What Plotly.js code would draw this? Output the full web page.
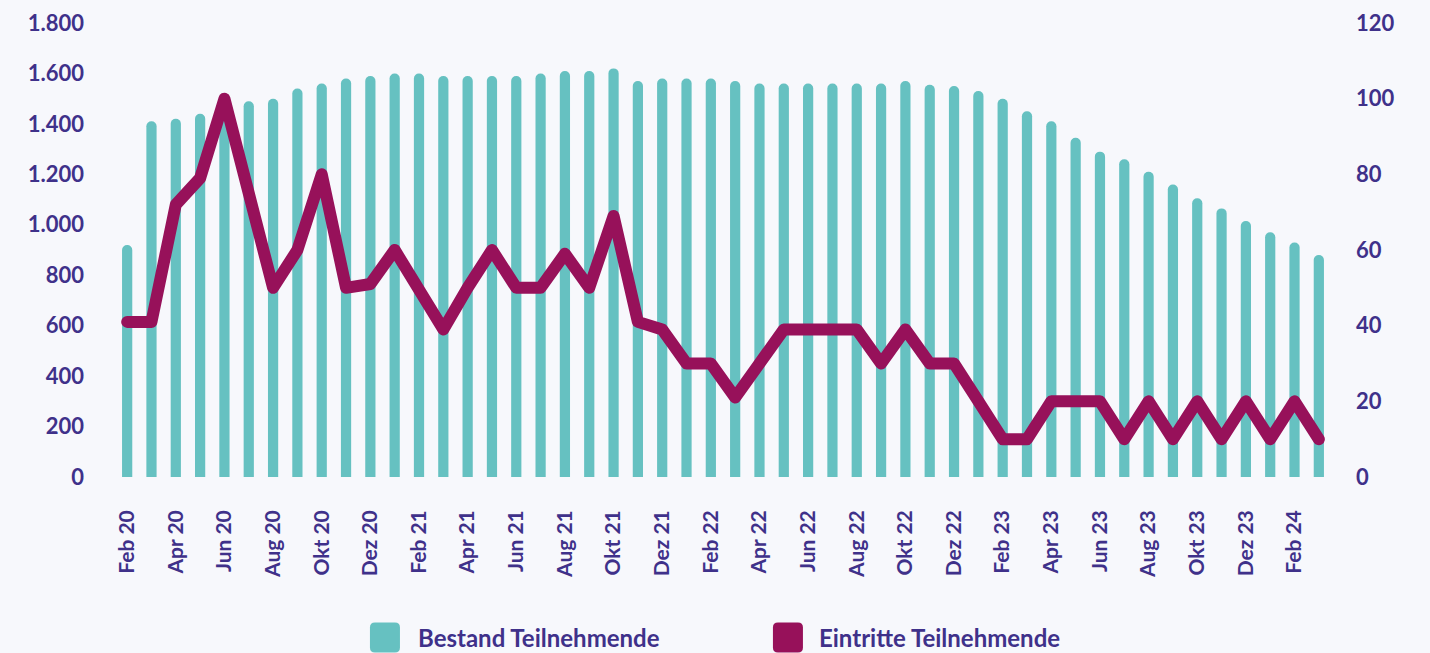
<!DOCTYPE html>
<html>
<head>
<meta charset="utf-8">
<script src="https://cdn.plot.ly/plotly-3.0.1.min.js"></script>
<style>
  html, body { margin: 0; padding: 0; background: #f7f8fc; }
  #chart { width: 1430px; height: 653px; }
  .scatterlayer .js-line { stroke-linejoin: round !important; stroke-linecap: round !important; }
</style>
</head>
<body>
<div id="chart"></div>
<script>
// Months (Feb 2020 – Mar 2024)
const months = [
  "Feb 20","Mär 20","Apr 20","Mai 20","Jun 20","Jul 20","Aug 20","Sep 20","Okt 20","Nov 20","Dez 20",
  "Jan 21","Feb 21","Mär 21","Apr 21","Mai 21","Jun 21","Jul 21","Aug 21","Sep 21","Okt 21","Nov 21","Dez 21",
  "Jan 22","Feb 22","Mär 22","Apr 22","Mai 22","Jun 22","Jul 22","Aug 22","Sep 22","Okt 22","Nov 22","Dez 22",
  "Jan 23","Feb 23","Mär 23","Apr 23","Mai 23","Jun 23","Jul 23","Aug 23","Sep 23","Okt 23","Nov 23","Dez 23",
  "Jan 24","Feb 24","Mär 24"
];

// Bestand Teilnehmende (left axis)
const bestand = [
  920,1410,1420,1440,1470,1490,1500,1540,1560,1580,1590,
  1600,1600,1590,1590,1590,1590,1600,1610,1610,1620,1570,1580,
  1580,1580,1570,1560,1560,1560,1560,1560,1560,1570,1555,1550,
  1530,1500,1450,1410,1345,1290,1260,1210,1160,1105,1065,1015,
  970,930,880
];

// Eintritte Teilnehmende (right axis)
const eintritte = [
  41,41,72,79,100,75,50,60,80,50,51,
  60,50,39,50,60,50,50,59,50,69,41,39,
  30,30,21,30,39,39,39,39,30,39,30,30,
  20,10,10,20,20,20,10,20,10,20,10,20,
  10,20,10
];

// Shown tick labels: every second month
const tickLabels = months.filter((m, i) => i % 2 === 0);

const seriesNames = ["Bestand Teilnehmende", "Eintritte Teilnehmende"];
const colBar = "#66c1c1";
const colLine = "#97115a";
const colText = "#3f318a";
const fontFam = "Lato, 'Noto Sans', sans-serif";

const traces = [
  {
    type: "bar",
    name: seriesNames[0],
    x: months,
    y: bestand,
    marker: { color: colBar, cornerradius: 5 },
    width: 0.42,
    yaxis: "y",
    hoverinfo: "x+y"
  },
  {
    type: "scatter",
    mode: "lines",
    name: seriesNames[1],
    x: months,
    y: eintritte,
    line: { color: colLine, width: 12, shape: "linear" },
    yaxis: "y2",
    hoverinfo: "x+y"
  }
];

const layout = {
  width: 1430,
  height: 653,
  paper_bgcolor: "#f7f8fc",
  plot_bgcolor: "#f7f8fc",
  separators: ",.",
  margin: { l: 115, r: 99, t: 23, b: 176, pad: 0 },
  showlegend: false,
  font: { family: fontFam, color: colText, size: 21, weight: 700 },
  xaxis: {
    type: "category",
    categoryorder: "array",
    categoryarray: months,
    range: [-0.5, months.length - 0.5],
    tickmode: "array",
    tickvals: tickLabels,
    ticktext: tickLabels,
    tickangle: -90,
    ticklabelstandoff: 28,
    showgrid: false,
    zeroline: false,
    showline: false,
    ticks: "",
    tickfont: { family: fontFam, size: 21, color: colText, weight: 700 }
  },
  yaxis: {
    range: [0, 1800],
    dtick: 200,
    tick0: 0,
    tickformat: ",d",
    showgrid: false,
    zeroline: false,
    showline: false,
    ticks: "",
    ticklabelstandoff: 30,
    tickfont: { family: fontFam, size: 22, color: colText, weight: 700 }
  },
  yaxis2: {
    range: [0, 120],
    dtick: 20,
    tick0: 0,
    overlaying: "y",
    side: "right",
    showgrid: false,
    zeroline: false,
    showline: false,
    ticks: "",
    ticklabelstandoff: 24,
    tickfont: { family: fontFam, size: 22, color: colText, weight: 700 }
  },
  shapes: [
    {
      type: "path", xref: "paper", yref: "paper",
      xsizemode: "pixel", ysizemode: "pixel",
      xanchor: 0.222, yanchor: -0.3535,
      path: "M -10 -15 L 10 -15 Q 15 -15 15 -10 L 15 10 Q 15 15 10 15 L -10 15 Q -15 15 -15 10 L -15 -10 Q -15 -15 -10 -15 Z",
      fillcolor: colBar, line: { width: 0 }
    },
    {
      type: "path", xref: "paper", yref: "paper",
      xsizemode: "pixel", ysizemode: "pixel",
      xanchor: 0.5534, yanchor: -0.3535,
      path: "M -10 -15 L 10 -15 Q 15 -15 15 -10 L 15 10 Q 15 15 10 15 L -10 15 Q -15 15 -15 10 L -15 -10 Q -15 -15 -10 -15 Z",
      fillcolor: colLine, line: { width: 0 }
    }
  ],
  annotations: [
    {
      xref: "paper", yref: "paper", x: 0.2475, y: -0.3535,
      xanchor: "left", yanchor: "middle", showarrow: false,
      text: seriesNames[0],
      font: { family: fontFam, size: 24, color: colText, weight: 700 }
    },
    {
      xref: "paper", yref: "paper", x: 0.5773, y: -0.3535,
      xanchor: "left", yanchor: "middle", showarrow: false,
      text: seriesNames[1],
      font: { family: fontFam, size: 24, color: colText, weight: 700 }
    }
  ]
};

Plotly.newPlot("chart", traces, layout, { displayModeBar: false, staticPlot: true });
</script>
</body>
</html>
